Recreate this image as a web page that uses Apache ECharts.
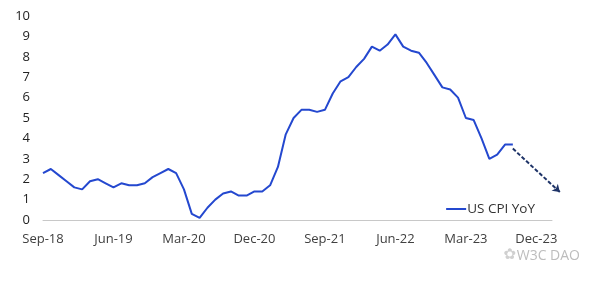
<!DOCTYPE html>
<html>
<head>
<meta charset="utf-8">
<script src="https://cdn.jsdelivr.net/npm/echarts@6/dist/echarts.min.js"></script>
<style>html,body{margin:0;padding:0;background:#fff}#c{width:600px;height:281px}</style>
</head>
<body>
<div id="c"></div>
<script>
var months = ['Jan','Feb','Mar','Apr','May','Jun','Jul','Aug','Sep','Oct','Nov','Dec'];
// categories Sep-18 .. Feb-24
var categories = [];
(function(){ var y = 18, m = 8; for (var i = 0; i < 66; i++) { categories.push(months[m] + '-' + y); m++; if (m === 12) { m = 0; y++; } } })();
var cpiYoY = [2.3,2.5,2.2,1.9,
  1.6,1.5,1.9,2.0,1.8,1.6,1.8,1.7,1.7,1.8,2.1,2.3,
  2.5,2.3,1.5,0.3,0.1,0.6,1.0,1.3,1.4,1.2,1.2,1.4,
  1.4,1.7,2.6,4.2,5.0,5.4,5.4,5.3,5.4,6.2,6.8,7.0,
  7.5,7.9,8.5,8.3,8.6,9.1,8.5,8.3,8.2,7.7,7.1,6.5,
  6.4,6.0,5.0,4.9,4.0,3.0,3.2,3.7,3.7];
var arrowFrom = [60.3, 3.5];
var arrowTo = [66.0, 1.37];
var yTicks = [0,1,2,3,4,5,6,7,8,9,10];

var chart = echarts.init(document.getElementById('c'));
chart.setOption({
  animation: false,
  textStyle: { fontFamily: 'Open Sans' },
  grid: { left: 43, right: 48, top: 16, bottom: 61 },
  legend: {
    right: 60, top: 197, itemWidth: 20, itemHeight: 2, itemGap: 2,
    icon: 'rect',
    textStyle: { color: '#333', fontSize: 13.5, fontFamily: 'Open Sans', padding: [0,0,0,-4] },
    data: ['US CPI YoY']
  },
  xAxis: {
    type: 'category', data: categories, boundaryGap: false,
    axisLine: { lineStyle: { color: '#c8c8c8', width: 1 } },
    axisTick: { show: false },
    axisLabel: { interval: 8, color: '#404040', fontSize: 13, margin: 13 }
  },
  yAxis: {
    type: 'value', min: 0, max: 10, interval: 1,
    axisLine: { show: false }, axisTick: { show: false }, splitLine: { show: false },
    axisLabel: { color: '#222', fontSize: 13, margin: 13,
      formatter: function(v){ return yTicks.indexOf(v) >= 0 ? String(v) : ''; } }
  },
  series: [{
    name: 'US CPI YoY', type: 'line', data: cpiYoY, symbol: 'none',
    lineStyle: { color: '#2448cf', width: 2 }, itemStyle: { color: '#2448cf' }
  }, {
    type: 'lines', coordinateSystem: 'cartesian2d', clip: false, silent: true,
    symbol: ['none', 'arrow'], symbolSize: 7,
    lineStyle: { color: '#1f3468', width: 2, type: [4, 2], opacity: 1 },
    data: [{ coords: [arrowFrom, arrowTo] }]
  }],
  graphic: [{
    type: 'text', right: 20, top: 249,
    style: { text: 'W3C DAO', fill: '#bdbdbd', font: '14px "Open Sans"' }
  }, {
    type: 'text', right: 84, top: 248,
    style: { text: '\u273F', fill: '#d0d0d0', font: '15px "DejaVu Sans"' }
  }]
});
</script>
</body>
</html>
